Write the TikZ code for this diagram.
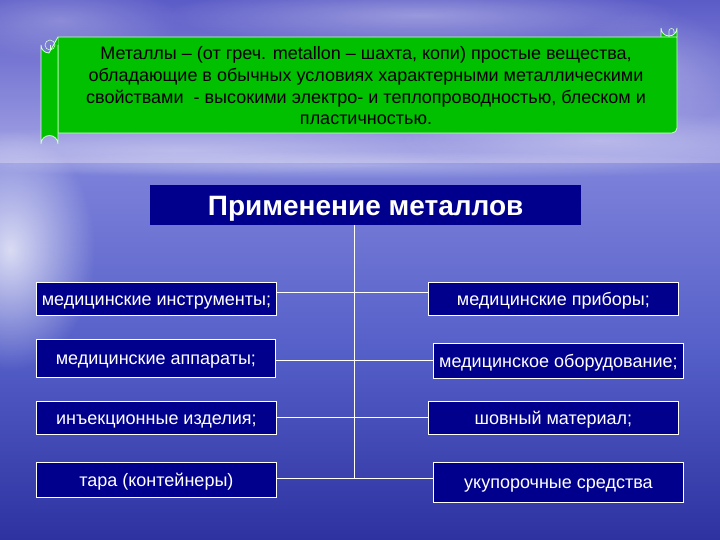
\documentclass[tikz,border=0pt]{standalone}
\usepackage{fontspec}
\setmainfont{Liberation Sans}
\usetikzlibrary{shadings,fadings}
\definecolor{navy}{RGB}{0,0,140}
\definecolor{scrollgreen}{RGB}{0,192,0}
\definecolor{scrollline}{RGB}{210,255,210}
\definecolor{skytop}{RGB}{92,92,200}
\definecolor{skyhor}{RGB}{165,165,230}
\definecolor{seatop}{RGB}{125,130,218}
\definecolor{seamid}{RGB}{85,95,200}
\definecolor{seabot}{RGB}{45,50,160}
\tikzfading[name=glow, inner color=transparent!0, outer color=transparent!100]
\tikzset{
  itembox/.style={draw=white, line width=0.8pt, fill=navy, text=white, font=\fontsize{18}{20}\selectfont, inner sep=0pt, text height=13pt, text depth=0pt, anchor=north west},
  link/.style={draw=white, line width=0.8pt},
  scrollpart/.style={fill=scrollgreen, draw=scrollline, line width=0.8pt}
}
\begin{document}
\begin{tikzpicture}[x=1pt,y=-1pt]
\useasboundingbox (0,0) rectangle (720,540);
% background
\shade[top color=skytop, bottom color=skyhor] (0,0) rectangle (720,165);
\shade[top color=seatop, bottom color=seabot, middle color=seamid] (0,164) rectangle (720,540);
\fill[white, path fading=glow, opacity=0.3] (360,165) ellipse (420 and 14);
\fill[white, path fading=glow, opacity=0.75] (10,250) ellipse (85 and 120);
\fill[white, path fading=glow, opacity=0.35] (420,15) ellipse (260 and 30);
\fill[white, path fading=glow, opacity=0.3] (180,150) ellipse (300 and 25);
\fill[white, path fading=glow, opacity=0.3] (600,140) ellipse (200 and 30);
\fill[white, path fading=glow, opacity=0.25] (650,70) ellipse (90 and 60);
\fill[white, path fading=glow, opacity=0.25] (60,20) ellipse (120 and 40);
% scroll
\draw[scrollpart] (661,37) -- (661,28) arc[start angle=180, end angle=0, radius=8] -- (677,37);
\draw[scrollpart] (58,37) -- (677,37) -- (677,128) arc[start angle=0, end angle=90, radius=5] -- (58,133) -- cycle;
\draw[scrollline, line width=0.6pt] (669,37) -- (669,31) arc[start angle=180, end angle=360, radius=2.5] -- (674,33);
\draw[scrollpart] (58,45) -- (58,144) arc[start angle=0, end angle=-180, radius=8.5] -- (41,45) arc[start angle=180, end angle=90, radius=8] -- (58,37);
\draw[scrollline, line width=0.6pt] (50,45) circle (5);
\draw[scrollline, line width=0.6pt] (50,45) -- (50,50);
\node[text=black, font=\fontsize{18}{21.7}\selectfont, align=center, inner sep=0pt] (def) at (366,86)
{Металлы – (от греч. metallon – шахта, копи) простые вещества,\\
обладающие в обычных условиях характерными металлическими\\
свойствами\ \ - высокими электро- и теплопроводностью, блеском и\\
пластичностью.};
% title
\node[fill=navy, text=white, font=\bfseries\fontsize{28}{30}\selectfont, minimum width=431pt, minimum height=40pt, inner sep=0pt, text height=20pt, text depth=0pt, anchor=north west] (title) at (150,185) {Применение металлов};
% left boxes
\node[itembox, minimum width=240pt, minimum height=33pt] (l1) at (36,282) {медицинские инструменты;};
\node[itembox, minimum width=239pt, minimum height=38pt] (l2) at (36,339) {медицинские аппараты;};
\node[itembox, minimum width=240pt, minimum height=33pt] (l3) at (36,401) {инъекционные изделия;};
\node[itembox, minimum width=240pt, minimum height=35pt] (l4) at (36,462) {тара (контейнеры)};
% right boxes
\node[itembox, minimum width=250pt, minimum height=33pt] (r1) at (428,282) {медицинские приборы;};
\node[itembox, minimum width=250pt, minimum height=35pt] (r2) at (433,343) {медицинское оборудование;};
\node[itembox, minimum width=250pt, minimum height=33pt] (r3) at (428,401) {шовный материал;};
\node[itembox, minimum width=250pt, minimum height=40pt] (r4) at (433,462) {укупорочные средства};
% spine
\coordinate (s1) at (354,292);
\coordinate (s2) at (354,360);
\coordinate (s3) at (354,417);
\coordinate (s4) at (354,478);
\draw[link] (title.south -| s1) -- (s4);
\draw[link] (l1.east |- s1) -- (r1.west |- s1);
\draw[link] (l2.east |- s2) -- (r2.west |- s2);
\draw[link] (l3.east |- s3) -- (r3.west |- s3);
\draw[link] (l4.east |- s4) -- (r4.west |- s4);
\end{tikzpicture}
\end{document}
